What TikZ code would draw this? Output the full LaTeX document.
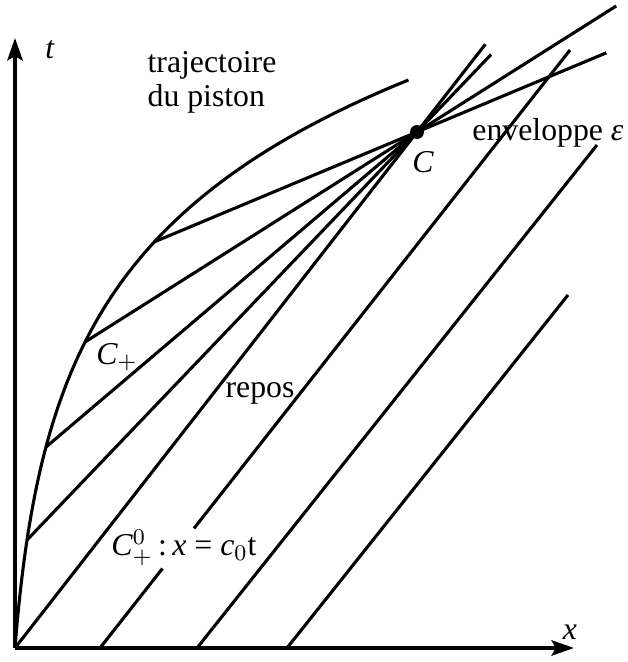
\documentclass[tikz,border=0pt]{standalone}
\usepackage{fontspec}
\setmainfont{Liberation Serif}
\usetikzlibrary{arrows.meta,calc}

\begin{document}
\begin{tikzpicture}[x=1.25mm,y=1.25mm,>={Stealth[length=8pt,width=5.5pt,inset=1.5pt]},line width=1.1pt,
 lbl/.style={inner sep=0pt,font=\fontsize{11.3}{12}\selectfont},
 dot/.style={circle,fill,inner sep=0pt,minimum size=1.75mm}]
 \useasboundingbox (-1.5,-1.4) rectangle (61.3,64.8);
 % axes
 \coordinate (O) at (0,0);
 \coordinate (tmax) at (0,61);
 \coordinate (xmax) at (55.9,0);
 \draw[->] (O)--(tmax);
 \draw[->] (O)--(xmax);
 \node[lbl] (tlab) at (3.5,59.8){\textit{t}};
 \node[lbl] (xlab) at (55.5,1.6){\textit{x}};
 % piston trajectory and the points where the characteristics leave it
 \coordinate (Pa) at (1.2,10.8);
 \coordinate (Pb) at (3.1,20.1);
 \coordinate (Pc) at (7.0,30.6);
 \coordinate (Pd) at (13.9,40.6);
 \draw plot[domain=0:56.8,samples=90] ({1.3*(exp(\x/16.5)-1)},\x);
 \node[lbl,align=left] (traj) at (19.7,56.6){trajectoire\\du piston};
 % focal point C
 \coordinate (C) at (40.2,51.6);
 \draw (O)--($(O)!1.17!(C)$);
 \draw (Pa)--($(Pa)!1.19!(C)$);
 \draw (Pb)--(C);
 \draw (Pc)--($(Pc)!1.6!(C)$);
 \draw (Pd)--($(Pd)!1.72!(C)$);
 \node[dot] (Cdot) at (C){};
 \node[lbl] (Clab) at (40.8,48.6){\textit{C}};
 \node[lbl] (env) at (53.3,51.5){enveloppe \textit{ε}};
 \node[lbl] (Cplus) at (10.2,29.1){\textit{C}$_+$};
 % characteristics of the region at rest
 \coordinate (La) at (8.5,0);
 \coordinate (Lae) at (55.5,59.8);
 \coordinate (Lb) at (18.2,0);
 \coordinate (Lbe) at (58.2,50.3);
 \coordinate (Lc) at (27.2,0);
 \coordinate (Lce) at (55.3,35.3);
 \draw (La)--($(La)!0.133!(Lae)$);
 \draw ($(La)!0.2!(Lae)$)--(Lae);
 \draw (Lb)--(Lbe);
 \draw (Lc)--(Lce);
 \node[lbl] (repos) at (24.5,25.5){repos};
 \node[lbl] (Czero) at (16.9,10.0){\textit{C}$^0_+$\,:\,\textit{x} = \textit{c}$_0$t};
\end{tikzpicture}
\end{document}
